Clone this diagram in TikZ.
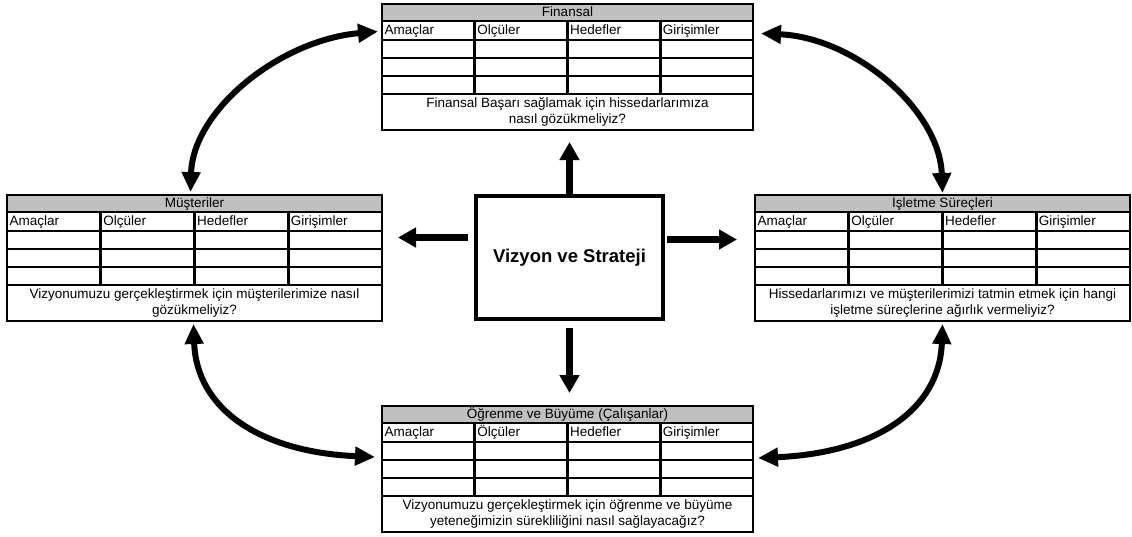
\documentclass[tikz,border=0pt]{standalone}
\usepackage{fontspec}
\setmainfont{Liberation Sans}
\usetikzlibrary{arrows.meta,calc}
\definecolor{titlegray}{RGB}{192,192,192}
\tikzset{
  panelfont/.style={font=\fontsize{13.5}{16.5}\selectfont},
  cell/.style={draw=black, line width=2.8pt, inner sep=0pt, outer sep=0pt,
    anchor=north west, panelfont},
  titlecell/.style={cell, fill=titlegray, text height=10pt, text depth=3pt},
  headcell/.style={cell, align=left, inner xsep=2.5pt, text height=10pt, text depth=3pt},
  qcell/.style={cell, align=center},
  visionbox/.style={draw=black, line width=4pt, minimum width=187pt,
    minimum height=123pt, font=\fontsize{18.5}{22}\selectfont\bfseries},
  pusharrow/.style={line width=6.5pt, -{Triangle[length=18pt,width=19pt]}},
  linkarrow/.style={line width=6pt,
    {Triangle[length=20pt,width=18pt]}-{Triangle[length=20pt,width=18pt]}},
}

% One scorecard panel: name, left x, top y, width, title, second column head, question
\newcommand\bscpanel[7]{%
  \pgfmathsetmacro\pcw{#4/4}%
  \pgfmathsetmacro\ptw{#4/4-5}%
  \node[titlecell, minimum width=#4pt, minimum height=17pt] (#1-title) at (#2,#3) {#5};
  \foreach \cl/\lab in {0/Amaçlar,1/#6,2/Hedefler,3/Girişimler}{%
    \node[headcell, minimum width=\pcw pt, minimum height=19pt, text width=\ptw pt]
      (#1-h\cl) at ({#2+\cl*\pcw},{#3+17}) {\lab};
    \foreach \rw in {0,1,2}{%
      \node[cell, minimum width=\pcw pt, minimum height=18pt]
        (#1-r\rw-\cl) at ({#2+\cl*\pcw},{#3+36+\rw*18}) {};
    }%
  }%
  \node[qcell, minimum width=#4pt, minimum height=36pt] (#1-q) at (#2,{#3+90}) {#7};
}

\begin{document}
\begin{tikzpicture}[x=1pt, y=-1pt]
\useasboundingbox (0,0) rectangle (1132,536);

\bscpanel{fin}{382}{4}{371}{Finansal}{Olçüler}
  {Finansal Başarı sağlamak için hissedarlarımıza\\nasıl gözükmeliyiz?}
\bscpanel{mus}{7}{195}{375}{Müşteriler}{Olçüler}
  {Vizyonumuzu gerçekleştirmek için müşterilerimize nasıl\\gözükmeliyiz?}
\bscpanel{isl}{755}{195}{375}{İşletme Süreçleri}{Olçüler}
  {Hissedarlarımızı ve müşterilerimizi tatmin etmek için hangi\\işletme süreçlerine ağırlık vermeliyiz?}
\bscpanel{ogr}{382}{406}{371}{Öğrenme ve Büyüme (Çalışanlar)}{Ölçüler}
  {Vizyonumuzu gerçekleştirmek için öğrenme ve büyüme\\yeteneğimizin sürekliliğini nasıl sağlayacağız?}

\node[visionbox] (vs) at (569.5,257.5) {\raisebox{-3pt}{Vizyon ve Strateji}};

% arrows pushing out from the centre box
\coordinate (upT) at ($(vs.north)+(0,-52)$);
\coordinate (lfS) at ($(vs.west)+(-6,-20)$);
\coordinate (lfT) at ($(vs.west)+(-76,-20)$);
\coordinate (rtS) at ($(vs.east)+(2,-18)$);
\coordinate (rtT) at ($(vs.east)+(72,-18)$);
\coordinate (dnS) at ($(vs.south)+(0,7)$);
\coordinate (dnT) at ($(vs.south)+(0,72)$);
\draw[pusharrow] (vs.north) -- (upT);
\draw[pusharrow] (lfS) -- (lfT);
\draw[pusharrow] (rtS) -- (rtT);
\draw[pusharrow] (dnS) -- (dnT);

% curved two-way links between neighbouring panels
\draw[linkarrow] ($(mus-title.north)+(-4,-3)$) .. controls +(2.5,-82) and +(-98,8.5) ..
  ($(fin-h0.west)+(-4,1)$);
\draw[linkarrow] ($(fin-h3.east)+(8,3)$) .. controls +(94,4) and +(-3,-83) ..
  ($(isl-title.north)+(0,-2)$);
\draw[linkarrow] ($(mus-q.south)+(-1,3)$) .. controls +(3,85) and +(-115,-5) ..
  ($(ogr-r0-0.south west)+(-7,-3)$);
\draw[linkarrow] ($(isl-q.south)+(0,3)$) .. controls +(-3,86) and +(117,-5) ..
  ($(ogr-r0-3.south east)+(5,-2)$);
\end{tikzpicture}
\end{document}
